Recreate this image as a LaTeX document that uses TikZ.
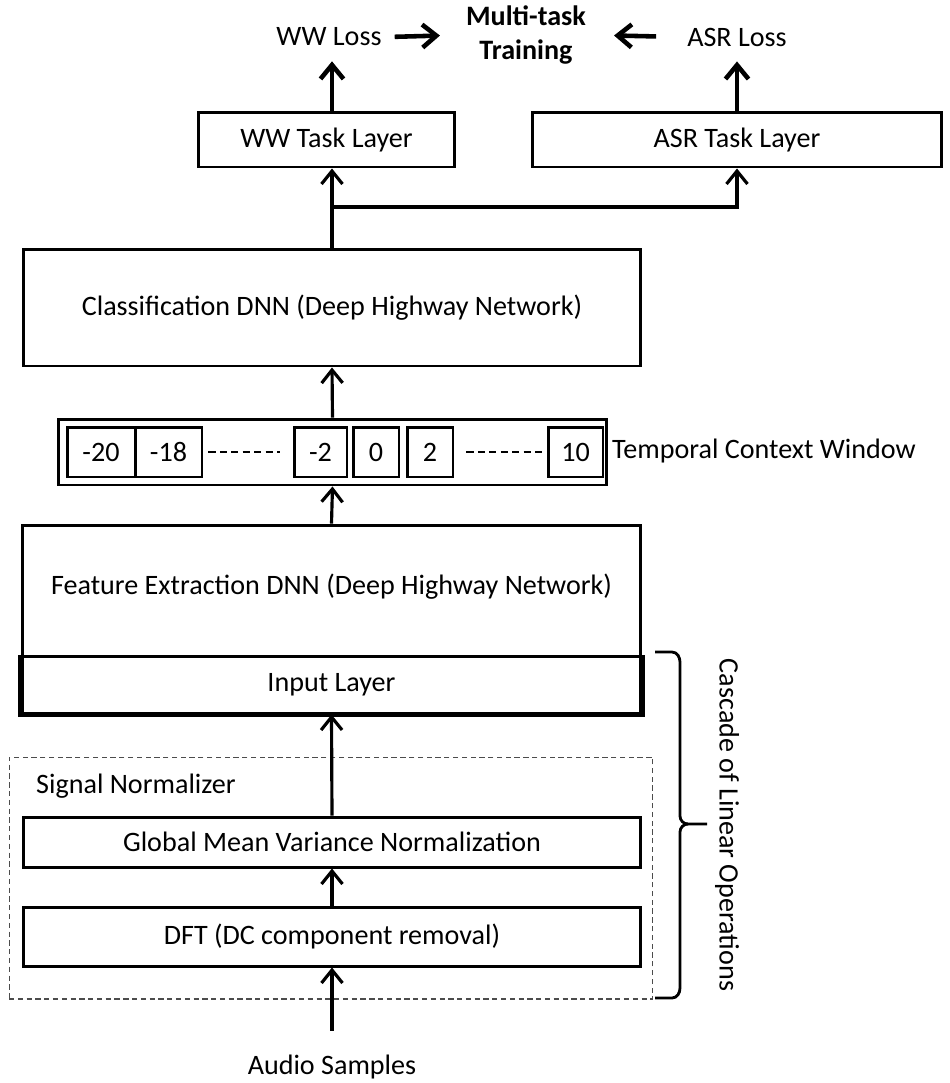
\documentclass[tikz,border=0pt]{standalone}
\usepackage{fontspec}
\setmainfont{Carlito}
\usetikzlibrary{arrows.meta}

\begin{document}
\begin{tikzpicture}[x=0.02cm, y=-0.02cm,
	font=\fontsize{16}{19}\selectfont,
	block/.style = { rectangle, draw=black, line width=1.7pt, fill=white,
	inner sep=0pt },
	slot/.style = { rectangle, draw=black, line width=1.7pt, inner sep=0pt,
	minimum height=1.0cm },
	up/.style = { line width=1.8pt,
	-{Straight Barb[length=2.6mm, width=4.2mm, line width=1.8pt]} },
	bold arrow/.style = { line width=2.6pt,
	-{Straight Barb[length=2.8mm, width=4.6mm, line width=2.6pt]} },
	dots/.style = { line width=1.3pt, dash pattern=on 4pt off 2.5pt } ]

  \useasboundingbox (0,0) rectangle (950,1083);

  % losses on top
  \node [name=wwloss] at (329,37) { WW Loss };
  \node [name=multitask, align=center, font=\fontsize{16}{19}\selectfont\bfseries]
	at (526,35) { Multi-task\\Training };
  \node [name=asrloss] at (737,37) { ASR Loss };

  \node [name=wwtask, block, minimum width=5.14cm, minimum height=1.1cm]
	at (326.5,139.5) { WW Task Layer };
  \node [name=asrtask, block, minimum width=8.2cm, minimum height=1.1cm]
	at (737,139.5) { ASR Task Layer };

  \node [name=classify, block, minimum width=12.36cm, minimum height=2.34cm]
	at (332,307.5) { Classification DNN (Deep Highway Network) };

  % context window
  \node [name=frame, block, minimum width=10.98cm, minimum height=1.32cm]
	at (332.5,452) {};
  \node [name=m20, slot, minimum width=1.36cm] at (101,452) { -20 };
  \node [name=m18, slot, minimum width=1.34cm] at (168.5,452) { -18 };
  \node [name=m2, slot, minimum width=1.06cm] at (320.5,452) { -2 };
  \node [name=zero, slot, minimum width=0.92cm] at (376,452) { 0 };
  \node [name=p2, slot, minimum width=0.92cm] at (430,452) { 2 };
  \node [name=p10, slot, minimum width=1.1cm] at (575.5,452) { 10 };
  \node [name=window, anchor=west] at (606,451) { Temporal Context Window };

  \node [name=feature, block, minimum width=12.38cm, minimum height=3.76cm]
	at (331.5,619) {};
  \node [name=featlabel] at (331.5,587)
	{ Feature Extraction DNN (Deep Highway Network) };
  \node [name=input, block, minimum width=12.38cm, minimum height=1.14cm]
	at (331.5,684.5) { Input Layer };
  \draw [line width=2.6pt] (input.north west) -- (input.south west)
	-- (input.south east) -- (input.north east);

  % signal normalizer
  \node [name=normalizer, rectangle, draw=black!70, line width=0.6pt,
	dash pattern=on 3pt off 2pt, minimum width=12.88cm, minimum height=4.84cm]
	at (331,878) {};
  \node [name=normlabel, anchor=west] at (30,786) { Signal Normalizer };
  \node [name=gmvn, block, minimum width=12.36cm, minimum height=1cm]
	at (332,842) { Global Mean Variance Normalization };
  \node [name=dft, block, minimum width=12.36cm, minimum height=1.18cm]
	at (332,936.5) { DFT (DC component removal) };

  \node [name=audio] at (332,1067) { Audio Samples };
  \node [name=cascade, rotate=-90] at (727,825) { Cascade of Linear Operations };

  % connectors
  \draw [up, shorten <=0.36cm] (audio.north) -- (dft.south);
  \draw [up] (dft.north) -- (gmvn.south);
  \draw [up] (gmvn.north) -- (input.south);
  \draw [up] (feature.north) -- (frame.south);
  \draw [up] (frame.north) -- (classify.south);
  \coordinate (split) at (332,207);
  \draw [up] (classify.north) -- (classify.north |- wwtask.south);
  \draw [up] (split) -| (asrtask.south);
  \draw [bold arrow, shorten >=0.18cm] (classify.north |- wwtask.north)
	-- (classify.north |- wwloss.south);
  \draw [bold arrow, shorten >=0.18cm] (asrtask.north) -- (asrtask.north |- asrloss.south);
  \draw [bold arrow, shorten <=0.14cm, shorten >=0.4cm] (wwloss.east) -- (multitask.west);
  \draw [bold arrow, shorten <=0.5cm, shorten >=0.44cm] (asrloss.west) -- (multitask.east);

  \draw [dots, shorten <=0.1cm, shorten >=0.26cm] (m18.east) -- (m2.west);
  \draw [dots, shorten <=0.24cm, shorten >=0.02cm] (p2.east) -- (p10.west);

  % brace
  \draw [line width=1.6pt] (655,652) -- (672,652) to[out=0,in=90] (680,662)
	-- (680,816) to[out=-90,in=180] (688,824) -- (707,824);
  \draw [line width=1.6pt] (688,824) to[out=180,in=90] (680,832)
	-- (680,988) to[out=-90,in=0] (672,998) -- (655,998);
\end{tikzpicture}
\end{document}
